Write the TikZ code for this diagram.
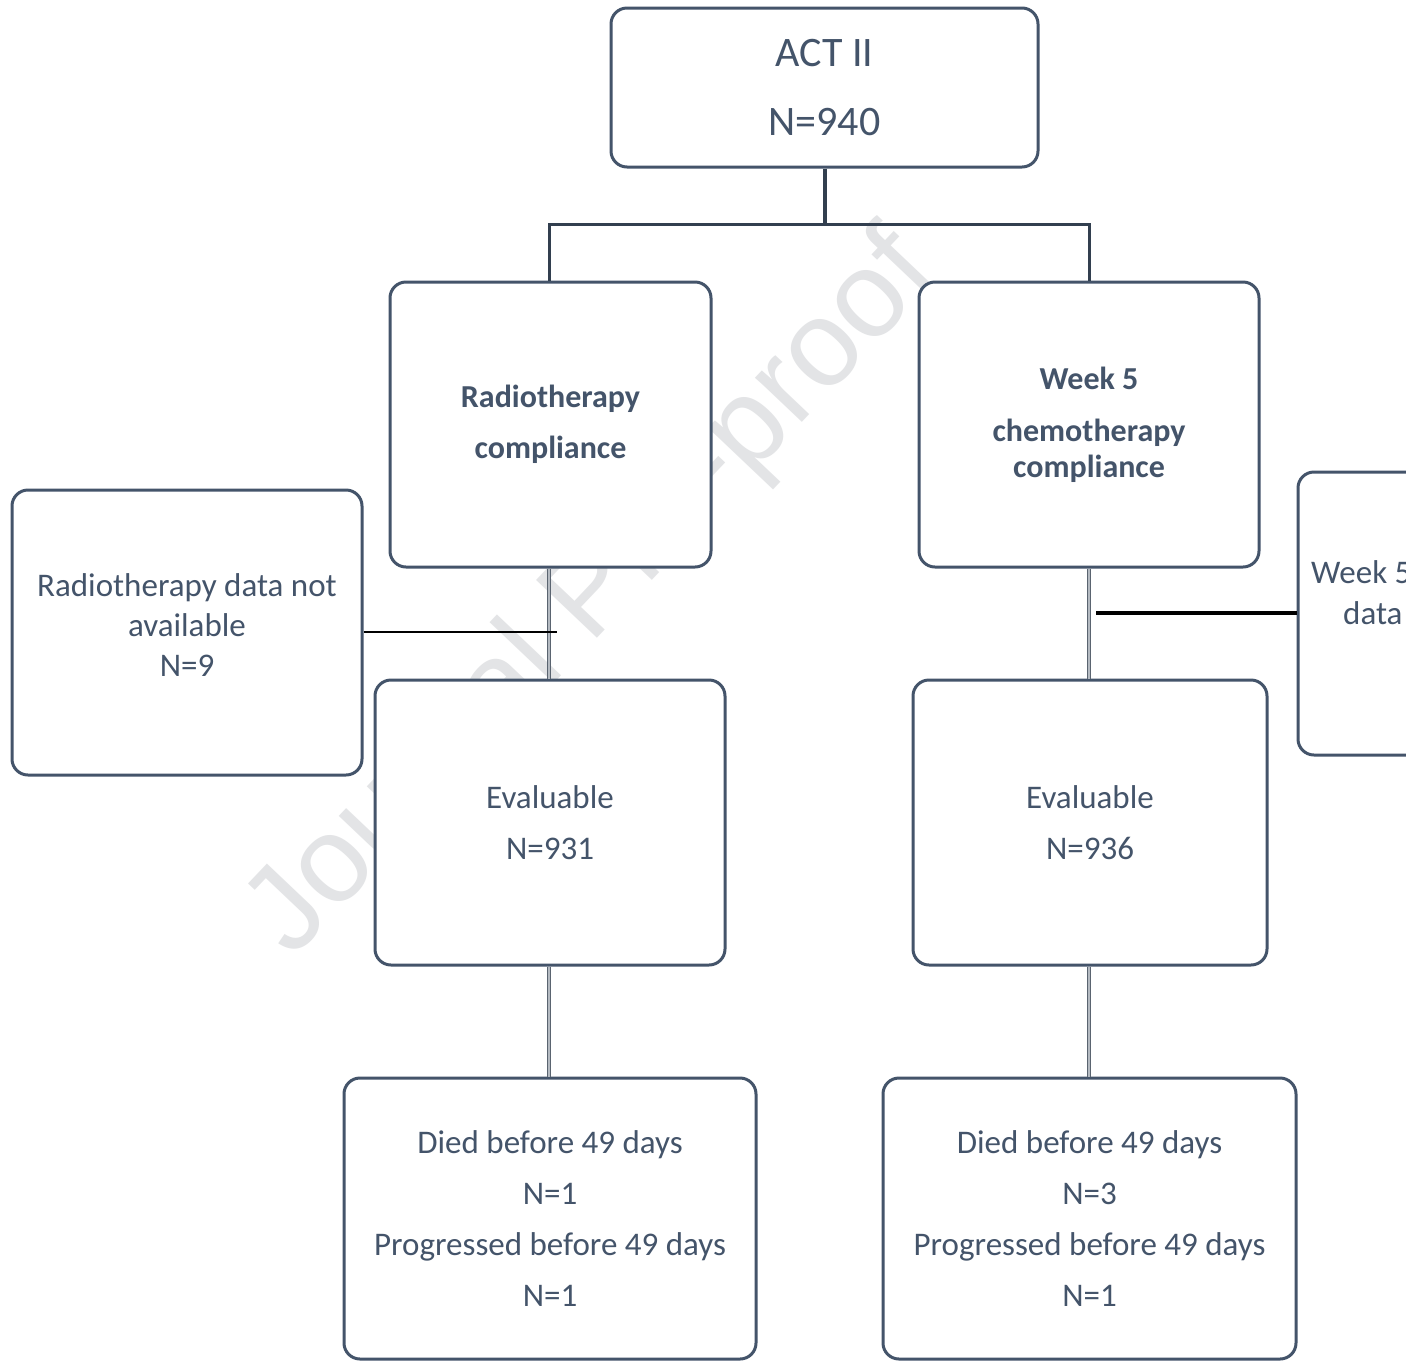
\documentclass[tikz,border=0pt]{standalone}
\usepackage{fontspec}
\setmainfont{Carlito}
\newfontfamily\wmfont{Liberation Sans}
\definecolor{boxc}{HTML}{44546A}
\definecolor{txtc}{HTML}{44546A}
\definecolor{treec}{HTML}{323F4F}
\definecolor{wmc}{HTML}{E3E4E6}
\definecolor{graylink}{HTML}{5A6470}
\definecolor{graycore}{HTML}{B4BAC1}
\tikzset{
  flowbox/.style={draw=boxc, line width=3pt, rounded corners=16pt, fill=white,
    text=txtc, align=center, inner sep=0pt},
  bodytext/.style={font=\fontsize{33}{51}\selectfont},
  treeline/.style={draw=treec, line width=3pt},
  graylinkline/.style={draw=graylink, line width=0.9pt, double=graycore, double distance=1.4pt},
  blackline/.style={draw=black, line width=2.5pt},
}
\begin{document}
\begin{tikzpicture}[x=1pt, y=-1pt]
\useasboundingbox (0,0) rectangle (1406,1361);
\clip (0,0) rectangle (1406,1361);
\fill[white] (0,0) rectangle (1406,1361);
% watermark
\node[font=\wmfont\fontsize{122}{122}\selectfont, text=wmc, rotate=46.5, anchor=base west, inner sep=0pt] (wm) at (292,960) {Journal Pre-proof};
% boxes
\node[flowbox, minimum width=427pt, minimum height=159pt, font=\fontsize{42}{69}\selectfont] (act) at (824.5,87.5) {ACT II\\N=940};
\node[flowbox, minimum width=321pt, minimum height=285pt, font=\bfseries\fontsize{32}{51}\selectfont] (rad) at (550.5,424.5) {Radiotherapy\\compliance};
\node[flowbox, minimum width=340pt, minimum height=285pt, font=\bfseries\fontsize{32}{36}\selectfont] (chemo) at (1089,424.5) {Week 5\\[16pt]chemotherapy\\compliance};
\node[flowbox, bodytext, font=\fontsize{33}{40}\selectfont, minimum width=350pt, minimum height=285pt, text depth=14pt] (na1) at (187,632.5) {Radiotherapy data not\\available\\N=9};
\node[flowbox, bodytext, minimum width=350pt, minimum height=285pt] (ev1) at (550,822.5) {Evaluable\\N=931};
\node[flowbox, bodytext, minimum width=354pt, minimum height=285pt] (ev2) at (1090,822.5) {Evaluable\\N=936};
\node[flowbox, bodytext, minimum width=412pt, minimum height=281pt] (out1) at (550,1218.5) {Died before 49 days\\N=1\\Progressed before 49 days\\N=1};
\node[flowbox, bodytext, minimum width=413pt, minimum height=281pt] (out2) at (1089.5,1218.5) {Died before 49 days\\N=3\\Progressed before 49 days\\N=1};
\node[flowbox, minimum width=350pt, minimum height=283pt] (na2) at (1473,613.5) {};
\node[bodytext, text=txtc, anchor=base west, inner sep=0pt] (na2a) at (1311,583) {Week 5};
\node[bodytext, text=txtc, anchor=base west, inner sep=0pt] (na2b) at (1343,624) {data};
% connectors
\coordinate (junc) at (824.5,224);
\draw[draw=treec, line width=4pt] (act.south) -- (junc);
\draw[treeline] (rad.north -| 549,0) |- (junc) -| (chemo.north);
\draw[graylinkline] (rad.south -| 549,0) -- (ev1.north -| 549,0);
\draw[graylinkline] (ev1.south -| 549,0) -- (out1.north -| 549,0);
\draw[graylinkline] (chemo.south) -- (ev2.north -| chemo.south);
\draw[graylinkline] (ev2.south -| chemo.south) -- (out2.north -| chemo.south);
\coordinate (j1) at (557,632);
\draw[blackline] (na1.east |- j1) -- (j1);
\coordinate (j2) at (1096,613);
\draw[draw=black, line width=3.5pt] (j2) -- (na2.west |- j2);
\end{tikzpicture}
\end{document}
